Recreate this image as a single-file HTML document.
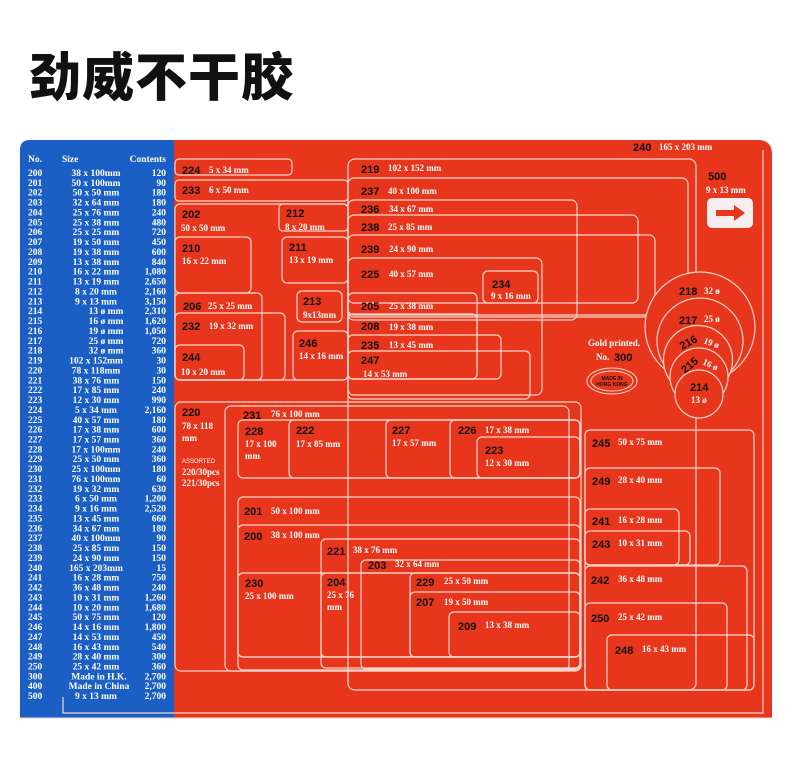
<!DOCTYPE html>
<html><head><meta charset="utf-8"><style>
html,body{margin:0;padding:0;background:#fff;width:794px;height:765px;overflow:hidden}
svg{display:block}
.t{font-family:"Liberation Serif",serif;font-weight:bold;font-size:9.5px;fill:#fff}
.n{font-family:"Liberation Sans",sans-serif;font-weight:bold;font-size:11px;fill:#111}
.s{font-family:"Liberation Serif",serif;font-weight:bold;font-size:9px;fill:#fff}
.b rect{fill:none;stroke:#f4d6cc;stroke-width:1.2}
</style></head><body>
<svg width="794" height="765" viewBox="0 0 794 765" xmlns="http://www.w3.org/2000/svg">
<text x="29" y="96" font-family="'Noto Sans CJK SC','WenQuanYi Zen Hei',sans-serif" font-weight="900" font-size="52" fill="#111" letter-spacing="1">劲威不干胶</text>
<path d="M20 150 Q20 140 30 140 H175 V718 H20 Z" fill="#1b5fc4"/>
<path d="M174 140 H758 Q772 140 772 154 V718 H174 Z" fill="#e8361c"/>
<line x1="20" y1="718" x2="772" y2="718" stroke="#f4d6cc" stroke-width="1"/>
<path d="M63 697 V713 H763 V150" fill="none" stroke="#f4d6cc" stroke-width="1.2"/>
<g class="t">
<text x="28" y="162">No.</text><text x="62" y="162">Size</text><text x="166" y="162" text-anchor="end">Contents</text>
</g>
<g class="t">
<text x="28" y="176">200</text><text x="28" y="185.9">201</text><text x="28" y="195.7">202</text><text x="28" y="205.6">203</text><text x="28" y="215.5">204</text><text x="28" y="225.4">205</text><text x="28" y="235.2">206</text><text x="28" y="245.1">207</text><text x="28" y="255">208</text><text x="28" y="264.8">209</text><text x="28" y="274.7">210</text><text x="28" y="284.6">211</text><text x="28" y="294.4">212</text><text x="28" y="304.3">213</text><text x="28" y="314.2">214</text><text x="28" y="324.1">215</text><text x="28" y="333.9">216</text><text x="28" y="343.8">217</text><text x="28" y="353.7">218</text><text x="28" y="363.5">219</text><text x="28" y="373.4">220</text><text x="28" y="383.3">221</text><text x="28" y="393.1">222</text><text x="28" y="403">223</text><text x="28" y="412.9">224</text><text x="28" y="422.8">225</text><text x="28" y="432.6">226</text><text x="28" y="442.5">227</text><text x="28" y="452.4">228</text><text x="28" y="462.2">229</text><text x="28" y="472.1">230</text><text x="28" y="482">231</text><text x="28" y="491.8">232</text><text x="28" y="501.7">233</text><text x="28" y="511.6">234</text><text x="28" y="521.5">235</text><text x="28" y="531.3">236</text><text x="28" y="541.2">237</text><text x="28" y="551.1">238</text><text x="28" y="560.9">239</text><text x="28" y="570.8">240</text><text x="28" y="580.7">241</text><text x="28" y="590.5">242</text><text x="28" y="600.4">243</text><text x="28" y="610.3">244</text><text x="28" y="620.2">245</text><text x="28" y="630">246</text><text x="28" y="639.9">247</text><text x="28" y="649.8">248</text><text x="28" y="659.6">249</text><text x="28" y="669.5">250</text><text x="28" y="679.4">300</text><text x="28" y="689.2">400</text><text x="28" y="699.1">500</text>
</g>
<g class="t" text-anchor="middle">
<text x="96" y="176">38 x 100mm</text><text x="96" y="185.9">50 x 100mm</text><text x="96" y="195.7">50 x 50 mm</text><text x="96" y="205.6">32 x 64 mm</text><text x="96" y="215.5">25 x 76 mm</text><text x="96" y="225.4">25 x 38 mm</text><text x="96" y="235.2">25 x 25 mm</text><text x="96" y="245.1">19 x 50 mm</text><text x="96" y="255">19 x 38 mm</text><text x="96" y="264.8">13 x 38 mm</text><text x="96" y="274.7">16 x 22 mm</text><text x="96" y="284.6">13 x 19 mm</text><text x="96" y="294.4">8 x 20 mm</text><text x="96" y="304.3">9 x 13 mm</text><text x="106" y="314.2">13 ø mm</text><text x="106" y="324.1">16 ø mm</text><text x="106" y="333.9">19 ø mm</text><text x="106" y="343.8">25 ø mm</text><text x="106" y="353.7">32 ø mm</text><text x="96" y="363.5">102 x 152mm</text><text x="96" y="373.4">78 x 118mm</text><text x="96" y="383.3">38 x 76 mm</text><text x="96" y="393.1">17 x 85 mm</text><text x="96" y="403">12 x 30 mm</text><text x="96" y="412.9">5 x 34 mm</text><text x="96" y="422.8">40 x 57 mm</text><text x="96" y="432.6">17 x 38 mm</text><text x="96" y="442.5">17 x 57 mm</text><text x="96" y="452.4">17 x 100mm</text><text x="96" y="462.2">25 x 50 mm</text><text x="96" y="472.1">25 x 100mm</text><text x="96" y="482">76 x 100mm</text><text x="96" y="491.8">19 x 32 mm</text><text x="96" y="501.7">6 x 50 mm</text><text x="96" y="511.6">9 x 16 mm</text><text x="96" y="521.5">13 x 45 mm</text><text x="96" y="531.3">34 x 67 mm</text><text x="96" y="541.2">40 x 100mm</text><text x="96" y="551.1">25 x 85 mm</text><text x="96" y="560.9">24 x 90 mm</text><text x="96" y="570.8">165 x 203mm</text><text x="96" y="580.7">16 x 28 mm</text><text x="96" y="590.5">36 x 48 mm</text><text x="96" y="600.4">10 x 31 mm</text><text x="96" y="610.3">10 x 20 mm</text><text x="96" y="620.2">50 x 75 mm</text><text x="96" y="630">14 x 16 mm</text><text x="96" y="639.9">14 x 53 mm</text><text x="96" y="649.8">16 x 43 mm</text><text x="96" y="659.6">28 x 40 mm</text><text x="96" y="669.5">25 x 42 mm</text><text x="99" y="679.4">Made in H.K.</text><text x="99" y="689.2">Made in China</text><text x="96" y="699.1">9 x 13 mm</text>
</g>
<g class="t" text-anchor="end">
<text x="166" y="176">120</text><text x="166" y="185.9">90</text><text x="166" y="195.7">180</text><text x="166" y="205.6">180</text><text x="166" y="215.5">240</text><text x="166" y="225.4">480</text><text x="166" y="235.2">720</text><text x="166" y="245.1">450</text><text x="166" y="255">600</text><text x="166" y="264.8">840</text><text x="166" y="274.7">1,080</text><text x="166" y="284.6">2,650</text><text x="166" y="294.4">2,160</text><text x="166" y="304.3">3,150</text><text x="166" y="314.2">2,310</text><text x="166" y="324.1">1,620</text><text x="166" y="333.9">1,050</text><text x="166" y="343.8">720</text><text x="166" y="353.7">360</text><text x="166" y="363.5">30</text><text x="166" y="373.4">30</text><text x="166" y="383.3">150</text><text x="166" y="393.1">240</text><text x="166" y="403">990</text><text x="166" y="412.9">2,160</text><text x="166" y="422.8">180</text><text x="166" y="432.6">600</text><text x="166" y="442.5">360</text><text x="166" y="452.4">240</text><text x="166" y="462.2">360</text><text x="166" y="472.1">180</text><text x="166" y="482">60</text><text x="166" y="491.8">630</text><text x="166" y="501.7">1,200</text><text x="166" y="511.6">2,520</text><text x="166" y="521.5">660</text><text x="166" y="531.3">180</text><text x="166" y="541.2">90</text><text x="166" y="551.1">150</text><text x="166" y="560.9">150</text><text x="166" y="570.8">15</text><text x="166" y="580.7">750</text><text x="166" y="590.5">240</text><text x="166" y="600.4">1,260</text><text x="166" y="610.3">1,680</text><text x="166" y="620.2">120</text><text x="166" y="630">1,800</text><text x="166" y="639.9">450</text><text x="166" y="649.8">540</text><text x="166" y="659.6">300</text><text x="166" y="669.5">360</text><text x="166" y="679.4">2,700</text><text x="166" y="689.2">2,700</text><text x="166" y="699.1">2,700</text>
</g>
<g class="b">
<rect x="175" y="159" width="117" height="16" rx="4"/>
<rect x="175" y="180" width="173" height="21" rx="4"/>
<rect x="175" y="204" width="173" height="176" rx="5"/>
<rect x="279" y="204" width="69" height="27" rx="4"/>
<rect x="175" y="237" width="76" height="56" rx="5"/>
<rect x="282" y="237" width="66" height="46" rx="5"/>
<rect x="175" y="293" width="87" height="87" rx="5"/>
<rect x="175" y="313" width="110" height="67" rx="5"/>
<rect x="175" y="345" width="69" height="35" rx="5"/>
<rect x="297" y="291" width="45" height="31" rx="5"/>
<rect x="293" y="331" width="55" height="49" rx="5"/>
<rect x="348" y="159" width="348" height="531" rx="7"/>
<rect x="348" y="178" width="340" height="137" rx="6"/>
<rect x="348" y="200" width="229" height="120" rx="6"/>
<rect x="348" y="215" width="290" height="88" rx="6"/>
<rect x="348" y="235" width="307" height="82" rx="6"/>
<rect x="348" y="258" width="194" height="137" rx="6"/>
<rect x="483" y="271" width="55" height="32" rx="5"/>
<rect x="348" y="293" width="129" height="86" rx="5"/>
<rect x="348" y="314" width="129" height="65" rx="5"/>
<rect x="348" y="335" width="153" height="44" rx="5"/>
<rect x="348" y="351" width="182" height="48" rx="5"/>
<rect x="175" y="402" width="406" height="269" rx="6"/>
<rect x="225" y="406" width="344" height="265" rx="6"/>
<rect x="238" y="420" width="342" height="58" rx="5"/>
<rect x="289" y="420" width="291" height="58" rx="5"/>
<rect x="386" y="420" width="194" height="58" rx="5"/>
<rect x="450" y="420" width="130" height="58" rx="5"/>
<rect x="477" y="437" width="103" height="41" rx="5"/>
<rect x="238" y="497" width="342" height="173" rx="5"/>
<rect x="238" y="525" width="342" height="132" rx="5"/>
<rect x="321" y="539" width="259" height="129" rx="5"/>
<rect x="361" y="560" width="219" height="109" rx="5"/>
<rect x="238" y="573" width="342" height="84" rx="5"/>
<rect x="321" y="573" width="259" height="84" rx="5"/>
<rect x="410" y="573" width="170" height="84" rx="5"/>
<rect x="410" y="592" width="170" height="65" rx="5"/>
<rect x="449" y="612" width="131" height="45" rx="5"/>
<rect x="585" y="430" width="169" height="260" rx="5"/>
<rect x="585" y="468" width="135" height="97" rx="5"/>
<rect x="585" y="509" width="94" height="56" rx="5"/>
<rect x="585" y="531" width="105" height="34" rx="5"/>
<rect x="585" y="566" width="162" height="124" rx="5"/>
<rect x="585" y="603" width="142" height="87" rx="5"/>
<rect x="607" y="635" width="147" height="55" rx="5"/>
</g>
<g fill="#e8361c" stroke="#f4d6cc" stroke-width="1.2">
<circle cx="700" cy="327" r="55"/>
<circle cx="700" cy="341" r="43"/>
<circle cx="698" cy="360" r="34.5"/>
<circle cx="699" cy="377" r="29"/>
<circle cx="699" cy="394" r="24"/>
</g>
<rect x="707" y="198" width="46" height="30" rx="5" fill="#f6eeee"/>
<path d="M716 210 H734 V205 L745 213 L734 221 V216 H716 Z" fill="#e8361c"/>
<g fill="none" stroke="#f4d6cc" stroke-width="1"><ellipse cx="612" cy="381" rx="25" ry="13"/><ellipse cx="612" cy="381" rx="21" ry="10"/></g>
<text x="612" y="380" text-anchor="middle" font-family="Liberation Sans" font-weight="bold" font-size="5" fill="#111">MADE IN</text>
<text x="612" y="386" text-anchor="middle" font-family="Liberation Sans" font-weight="bold" font-size="5" fill="#111">HONG KONG</text>
<text class="n" x="633" y="151">240</text><text class="s" x="659" y="150">165 x 203 mm</text>
<text class="n" x="708" y="180">500</text><text class="s" x="706" y="193">9 x 13 mm</text>
<text class="s" x="588" y="346">Gold printed.</text><text class="s" x="596" y="360">No.</text><text class="n" x="614" y="361">300</text>
<text class="n" x="679" y="295">218</text><text class="s" x="704" y="294">32 ø</text>
<text class="n" x="679" y="324">217</text><text class="s" x="704" y="322">25 ø</text>
<text class="n" x="682" y="350" transform="rotate(-28 682 350)">216</text><text class="s" x="703" y="343" transform="rotate(20 703 343)">19 ø</text>
<text class="n" x="685" y="374" transform="rotate(-40 685 374)">215</text><text class="s" x="702" y="364" transform="rotate(25 702 364)">16 ø</text>
<text class="n" x="690" y="391">214</text><text class="s" x="691" y="403">13 ø</text>
<g>
<text class="n" x="182" y="174">224</text><text class="s" x="209" y="173">5 x 34 mm</text>
<text class="n" x="182" y="194">233</text><text class="s" x="209" y="193">6 x 50 mm</text>
<text class="n" x="182" y="218">202</text><text class="s" x="181" y="231">50 x 50 mm</text>
<text class="n" x="286" y="217">212</text><text class="s" x="285" y="230">8 x 20 mm</text>
<text class="n" x="182" y="252">210</text><text class="s" x="182" y="264">16 x 22 mm</text>
<text class="n" x="289" y="251">211</text><text class="s" x="289" y="263">13 x 19 mm</text>
<text class="n" x="183" y="310">206</text><text class="s" x="208" y="309">25 x 25 mm</text>
<text class="n" x="182" y="330">232</text><text class="s" x="209" y="329">19 x 32 mm</text>
<text class="n" x="182" y="361">244</text><text class="s" x="181" y="375">10 x 20 mm</text>
<text class="n" x="303" y="305">213</text><text class="s" x="303" y="318">9x13mm</text>
<text class="n" x="299" y="347">246</text><text class="s" x="299" y="359">14 x 16 mm</text>
<text class="n" x="361" y="173">219</text><text class="s" x="388" y="171">102 x 152 mm</text>
<text class="n" x="361" y="195">237</text><text class="s" x="388" y="194">40 x 100 mm</text>
<text class="n" x="361" y="213">236</text><text class="s" x="389" y="212">34 x 67 mm</text>
<text class="n" x="361" y="231">238</text><text class="s" x="388" y="230">25 x 85 mm</text>
<text class="n" x="361" y="253">239</text><text class="s" x="389" y="252">24 x 90 mm</text>
<text class="n" x="361" y="278">225</text><text class="s" x="389" y="277">40 x 57 mm</text>
<text class="n" x="492" y="288">234</text><text class="s" x="491" y="299">9 x 16 mm</text>
<text class="n" x="361" y="310">205</text><text class="s" x="389" y="309">25 x 38 mm</text>
<text class="n" x="361" y="330">208</text><text class="s" x="389" y="330">19 x 38 mm</text>
<text class="n" x="361" y="349">235</text><text class="s" x="389" y="348">13 x 45 mm</text>
<text class="n" x="361" y="364">247</text><text class="s" x="363" y="377">14 x 53 mm</text>
<text class="n" x="182" y="416">220</text><text class="s" x="182" y="429">78 x 118</text><text class="s" x="182" y="441">mm</text>
<text x="182" y="463" font-family="Liberation Sans" font-size="6" fill="#fff">ASSORTED</text><text class="s" x="182" y="475">220/30pcs</text><text class="s" x="182" y="486">221/30pcs</text>
<text class="n" x="243" y="419">231</text><text class="s" x="271" y="417">76 x 100 mm</text>
<text class="n" x="245" y="435">228</text><text class="s" x="245" y="447">17 x 100</text><text class="s" x="245" y="459">mm</text>
<text class="n" x="296" y="434">222</text><text class="s" x="296" y="447">17 x 85 mm</text>
<text class="n" x="392" y="434">227</text><text class="s" x="392" y="446">17 x 57 mm</text>
<text class="n" x="458" y="434">226</text><text class="s" x="485" y="433">17 x 38 mm</text>
<text class="n" x="485" y="454">223</text><text class="s" x="485" y="466">12 x 30 mm</text>
<text class="n" x="244" y="515">201</text><text class="s" x="271" y="514">50 x 100 mm</text>
<text class="n" x="244" y="540">200</text><text class="s" x="271" y="538">38 x 100 mm</text>
<text class="n" x="327" y="555">221</text><text class="s" x="353" y="553">38 x 76 mm</text>
<text class="n" x="368" y="569">203</text><text class="s" x="395" y="567">32 x 64 mm</text>
<text class="n" x="245" y="587">230</text><text class="s" x="245" y="599">25 x 100 mm</text>
<text class="n" x="327" y="586">204</text><text class="s" x="327" y="598">25 x 76</text><text class="s" x="327" y="610">mm</text>
<text class="n" x="416" y="586">229</text><text class="s" x="444" y="584">25 x 50 mm</text>
<text class="n" x="416" y="606">207</text><text class="s" x="444" y="605">19 x 50 mm</text>
<text class="n" x="458" y="630">209</text><text class="s" x="485" y="628">13 x 38 mm</text>
<text class="n" x="592" y="447">245</text><text class="s" x="618" y="445">50 x 75 mm</text>
<text class="n" x="592" y="485">249</text><text class="s" x="618" y="483">28 x 40 mm</text>
<text class="n" x="592" y="525">241</text><text class="s" x="618" y="523">16 x 28 mm</text>
<text class="n" x="592" y="548">243</text><text class="s" x="618" y="546">10 x 31 mm</text>
<text class="n" x="591" y="584">242</text><text class="s" x="618" y="582">36 x 48 mm</text>
<text class="n" x="591" y="622">250</text><text class="s" x="618" y="620">25 x 42 mm</text>
<text class="n" x="615" y="654">248</text><text class="s" x="642" y="652">16 x 43 mm</text>
</g>
</svg>
</body></html>
